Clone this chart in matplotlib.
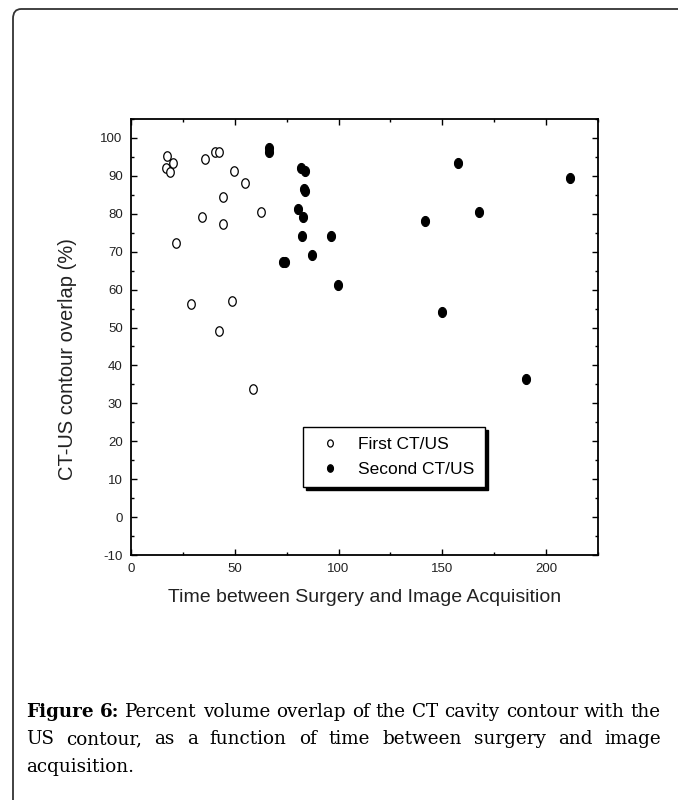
import numpy as np
import matplotlib
matplotlib.use('Agg')
import matplotlib.pyplot as plt
from matplotlib.patches import FancyBboxPatch
from matplotlib.ticker import MultipleLocator

plt.rcParams['font.family'] = ['Liberation Sans', 'DejaVu Sans']
plt.rcParams['axes.unicode_minus'] = False

# First CT/US (open markers)
first_x = [17.5, 16.9, 18.8, 20.0, 21.9, 28.8, 34.1, 35.6, 40.7, 42.2, 44.1, 44.1,
           48.5, 49.8, 54.9, 62.8, 42.2, 58.6]
first_y = [95.3, 92.2, 91.1, 93.3, 72.2, 56.2, 79.2, 94.5, 96.4, 96.4, 84.3, 77.2,
           57.1, 91.3, 88.2, 80.4, 49.1, 33.9]

# Second CT/US (filled markers)
second_x = [66.7, 66.7, 73.4, 74.4, 81.7, 83.8, 83.4, 83.8, 80.4, 82.8, 82.5, 87.0,
            96.6, 99.8, 141.8, 157.5, 167.5, 211.7, 149.8, 190.4]
second_y = [97.3, 96.3, 67.2, 67.2, 92.2, 91.4, 86.6, 86.0, 81.2, 79.2, 74.1, 69.1,
            74.1, 61.3, 78.1, 93.3, 80.4, 89.4, 54.2, 36.3]

series_labels = ['First CT/US', 'Second CT/US']
xlabel = 'Time between Surgery and Image Acquisition'
ylabel = 'CT-US contour overlap (%)'
caption_bold = ['Figure', '6:']
caption_lines = [
    'Percent volume overlap of the CT cavity contour with the',
    'US contour, as a function of time between surgery and image',
    'acquisition.',
]

W, H = 678, 800
fig = plt.figure(figsize=(W / 100, H / 100), dpi=100)

# page frame: top and left edges with a rounded corner
frame = FancyBboxPatch((13 / W, -0.2), 1.2, 1.2 - 9 / H,
                       boxstyle='round,pad=0,rounding_size=0.012',
                       transform=fig.transFigure, fill=False,
                       edgecolor='#333333', linewidth=1.3, clip_on=False)
fig.patches.append(frame)

ax = fig.add_axes([131 / W, 1 - 555 / H, 467 / W, 436 / H])

t = np.linspace(0, 2 * np.pi, 40)
ell = np.column_stack([0.8 * np.cos(t), np.sin(t)])

ax.plot(first_x, first_y, linestyle='none', marker=ell, markersize=6.8,
        markerfacecolor='white', markeredgecolor='black', markeredgewidth=0.9,
        label=series_labels[0])
ax.plot(second_x, second_y, linestyle='none', marker=ell, markersize=7.2,
        markerfacecolor='black', markeredgecolor='black', markeredgewidth=0.8,
        label=series_labels[1])

ax.set_xlim(0, 225)
ax.set_ylim(-10, 105)
ax.set_xticks([0, 50, 100, 150, 200])
ax.set_yticks(np.arange(-10, 101, 10))
ax.xaxis.set_minor_locator(MultipleLocator(25))
ax.yaxis.set_minor_locator(MultipleLocator(5))
ax.tick_params(which='both', direction='in', top=True, right=True,
               labelsize=9.5, labelcolor='#222222', width=1.0)
ax.tick_params(which='major', length=4.5, pad=6)
ax.tick_params(which='minor', length=2.5)
for s in ax.spines.values():
    s.set_linewidth(1.3)

ax.set_xlabel(xlabel, fontsize=14, color='#222222', labelpad=10)
ax.set_ylabel(ylabel, fontsize=14.5, color='#222222')
ax.yaxis.set_label_coords(-0.115, 0.45)

leg = ax.legend(loc='upper left', bbox_to_anchor=(302.7 / W, 1 - 426.7 / H),
                bbox_transform=fig.transFigure, borderaxespad=0,
                fontsize=12.5, frameon=True, fancybox=False,
                shadow={'color': 'black', 'alpha': 1, 'ox': 2.2, 'oy': -2.2},
                markerscale=0.75, handletextpad=0.6, borderpad=0.6,
                labelspacing=0.55, handlelength=2.0)
leg.get_frame().set_edgecolor('black')
leg.get_frame().set_linewidth(1.0)

# justified caption
renderer = fig.canvas.get_renderer()
cap_font = dict(family=['DejaVu Serif'], fontsize=13.2, color='black')
x_left, x_right = 26, 661
line_y = [712, 739, 767]


def draw_line(words, y, justify):
    items = []
    widths = []
    for w, bold in words:
        txt = fig.text(0, 1 - y / H, w, va='center', ha='left',
                       fontweight='bold' if bold else 'normal', **cap_font)
        items.append(txt)
        widths.append(txt.get_window_extent(renderer).width)
    if justify and len(items) > 1:
        gap = (x_right - x_left - sum(widths)) / (len(items) - 1)
    else:
        sp = fig.text(0, 0, 'a b', **cap_font)
        sp2 = fig.text(0, 0, 'ab', **cap_font)
        gap = sp.get_window_extent(renderer).width - sp2.get_window_extent(renderer).width
        sp.remove()
        sp2.remove()
    x = x_left
    for txt, wd in zip(items, widths):
        txt.set_x(x / W)
        x += wd + gap


words1 = [(w, True) for w in caption_bold] + [(w, False) for w in caption_lines[0].split()]
draw_line(words1, line_y[0], True)
draw_line([(w, False) for w in caption_lines[1].split()], line_y[1], True)
draw_line([(w, False) for w in caption_lines[2].split()], line_y[2], False)

fig.savefig('out.png', dpi=100)
